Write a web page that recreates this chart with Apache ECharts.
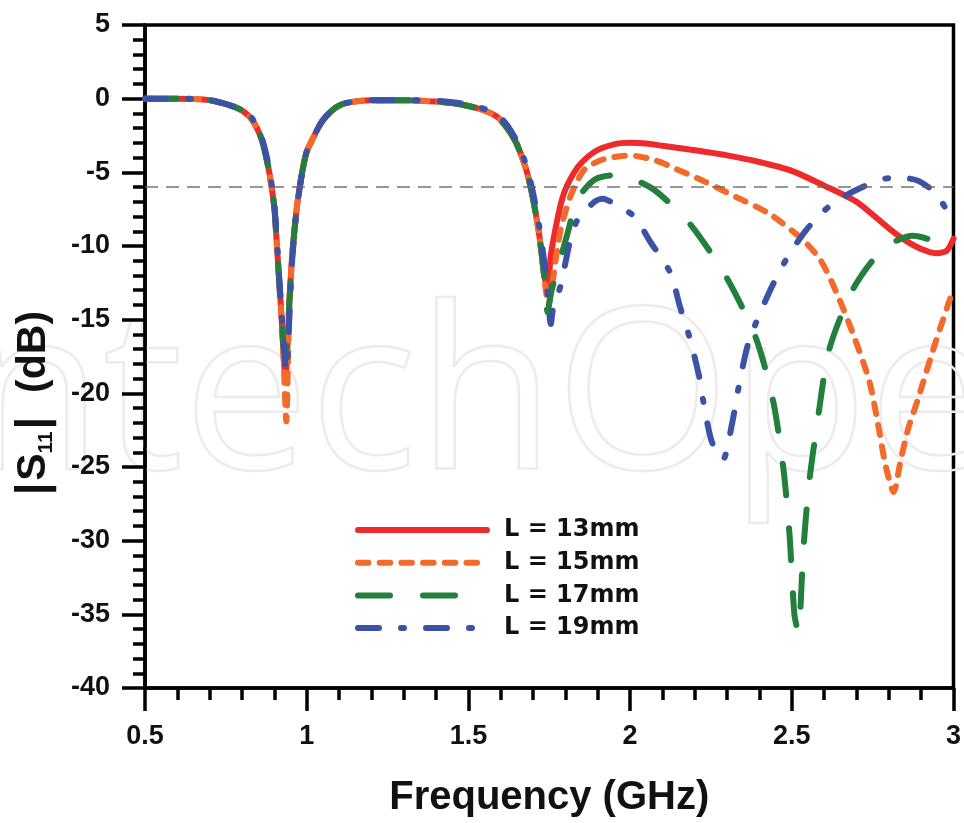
<!DOCTYPE html>
<html>
<head>
<meta charset="utf-8">
<script src="https://cdn.jsdelivr.net/npm/echarts@6/dist/echarts.min.js"></script>
<style>html,body{margin:0;padding:0;background:#fff}#c{width:964px;height:823px}</style>
</head>
<body>
<div id="c"></div>
<script>
// ---- data ----
const seriesNames = ['L = 13mm', 'L = 15mm', 'L = 17mm', 'L = 19mm'];

const freq13 = [0.50,0.60,0.70,0.77,0.80,0.83,0.86,0.875,0.885,0.90,0.91,0.92,0.928,0.934,0.94,0.946,0.955,0.97,0.986,1.00,1.017,1.04,1.06,1.09,1.12,1.20,1.30,1.40,1.45,1.50,1.55,1.59,1.62,1.65,1.68,1.70,1.72,1.735,1.745,1.755,1.775,1.79,1.805,1.84,1.89,1.95,2.00,2.05,2.10,2.20,2.30,2.40,2.50,2.60,2.70,2.80,2.85,2.90,2.95,2.98,3.00];
const s11_13 = [0,0,-0.1,-0.5,-0.8,-1.4,-2.7,-4.0,-5.1,-7.4,-10.7,-14.0,-17.0,-19.0,-17.0,-14.0,-10.7,-7.3,-5.0,-3.6,-2.8,-1.8,-1.2,-0.6,-0.3,-0.1,-0.1,-0.2,-0.3,-0.5,-0.8,-1.25,-2.0,-3.1,-4.9,-6.8,-9.4,-12.0,-12.9,-10.6,-8.2,-6.8,-5.9,-4.6,-3.6,-3.1,-3.0,-3.05,-3.2,-3.5,-3.85,-4.3,-4.9,-5.9,-7.0,-8.8,-9.6,-10.2,-10.5,-10.3,-9.5];

const freq15 = [0.50,0.60,0.70,0.77,0.80,0.83,0.86,0.875,0.885,0.90,0.91,0.92,0.928,0.937,0.942,0.947,0.955,0.97,0.986,1.00,1.017,1.04,1.06,1.09,1.12,1.20,1.30,1.40,1.45,1.50,1.55,1.59,1.62,1.65,1.68,1.70,1.72,1.735,1.748,1.757,1.767,1.785,1.816,1.859,1.92,2.00,2.08,2.145,2.228,2.33,2.43,2.535,2.59,2.637,2.69,2.74,2.77,2.79,2.815,2.837,2.86,2.89,2.945,3.00];
const s11_15 = [0,0,-0.1,-0.5,-0.8,-1.4,-2.7,-4.0,-5.1,-7.4,-10.7,-14.2,-17.5,-21.9,-18.0,-14.0,-10.7,-7.3,-5.0,-3.6,-2.8,-1.8,-1.2,-0.6,-0.3,-0.1,-0.1,-0.2,-0.3,-0.5,-0.8,-1.25,-2.0,-3.1,-4.9,-6.8,-9.4,-12.2,-14.0,-13.0,-11.4,-8.9,-6.6,-4.8,-4.1,-3.85,-4.2,-4.8,-5.6,-6.7,-7.8,-9.6,-11.0,-13.1,-16.0,-19.2,-22.5,-24.9,-26.7,-24.5,-22.4,-20.4,-16.5,-12.9];

const freq17 = [0.50,0.60,0.70,0.77,0.80,0.83,0.86,0.875,0.885,0.90,0.91,0.92,0.932,0.94,0.946,0.955,0.97,0.986,1.00,1.017,1.04,1.06,1.09,1.12,1.20,1.30,1.40,1.45,1.50,1.55,1.59,1.62,1.65,1.68,1.70,1.72,1.735,1.745,1.755,1.776,1.807,1.838,1.89,1.945,1.99,2.075,2.185,2.30,2.39,2.443,2.474,2.493,2.508,2.52,2.536,2.554,2.582,2.616,2.69,2.782,2.874,2.93,2.985,3.00];
const s11_17 = [0,0,-0.1,-0.5,-0.8,-1.4,-2.7,-4.0,-5.1,-7.4,-10.7,-14.0,-17.3,-16.5,-14.0,-10.7,-7.3,-5.0,-3.6,-2.8,-1.8,-1.2,-0.6,-0.3,-0.1,-0.1,-0.2,-0.3,-0.5,-0.8,-1.25,-2.0,-3.1,-4.9,-6.8,-9.4,-12.2,-14.5,-13.2,-11.6,-9.1,-6.8,-5.5,-5.2,-5.3,-6.2,-8.5,-12.2,-16.3,-20.6,-25.1,-29.6,-35.0,-36.2,-30.5,-26.0,-21.5,-17.0,-12.9,-10.2,-9.3,-9.6,-10.4,-10.5];

const freq19 = [0.50,0.60,0.70,0.77,0.80,0.83,0.86,0.875,0.885,0.90,0.91,0.92,0.93,0.937,0.943,0.948,0.956,0.97,0.986,1.00,1.017,1.04,1.06,1.09,1.12,1.20,1.30,1.40,1.45,1.50,1.55,1.59,1.62,1.65,1.68,1.70,1.72,1.74,1.755,1.762,1.785,1.816,1.838,1.89,1.915,1.94,2.013,2.062,2.124,2.154,2.185,2.213,2.23,2.253,2.287,2.314,2.339,2.367,2.431,2.483,2.545,2.616,2.699,2.80,2.853,2.893,2.945,2.975,3.00];
const s11_19 = [0,0,-0.1,-0.5,-0.8,-1.3,-2.6,-3.8,-4.9,-7.2,-10.4,-13.8,-17.0,-18.5,-16.5,-14.0,-10.7,-7.4,-5.0,-3.6,-2.8,-1.8,-1.2,-0.6,-0.3,-0.1,-0.1,-0.15,-0.25,-0.4,-0.7,-1.1,-1.8,-2.9,-4.6,-6.4,-8.8,-12.0,-15.3,-14.2,-12.7,-9.5,-8.2,-7.0,-6.8,-7.0,-8.0,-9.7,-11.8,-14.1,-16.3,-18.8,-21.0,-23.3,-24.5,-22.2,-19.2,-16.5,-13.1,-10.9,-8.9,-7.3,-6.2,-5.4,-5.4,-5.6,-6.4,-7.4,-8.0];

const refFreq = [0.5, 3.0];
const refLevel = [-6, -6];

const xTicks = {min: 0.5, max: 3, interval: 0.5};
const yTicks = {min: -40, max: 5, interval: 5};

// ---- styles ----
const colors = ['#ee2a2a', '#f26b2b', '#22803c', '#3a53a4'];
const dashes = ['solid', [10.5, 11.2], [32, 33], [21, 22, 3, 22]];
const freqs = [freq13, freq15, freq17, freq19];
const vals = [s11_13, s11_15, s11_17, s11_19];

const AX = '#000';
const LF = 'Liberation Sans';

function pairs(xs, ys) { return xs.map((x, i) => [x, ys[i]]); }

const chart = echarts.init(document.getElementById('c'), null, {renderer: 'canvas'});

const axisCommon = {
  type: 'value',
  axisLine: {show: true, onZero: false, lineStyle: {color: AX, width: 3.5}},
  axisTick: {show: true, inside: false, length: 23, lineStyle: {color: AX, width: 3.5}},
  minorTick: {show: true, splitNumber: 5, length: 12, lineStyle: {color: AX, width: 3.5}},
  splitLine: {show: false},
  minorSplitLine: {show: false},
  axisLabel: {margin: 35, fontFamily: LF, fontWeight: 'bold', fontSize: 27, color: '#111'}
};

const series = seriesNames.map((name, k) => ({
  type: 'line',
  name: name,
  data: pairs(freqs[k], vals[k]),
  symbol: 'none',
  showSymbol: false,
  smooth: 0.25,
  z: 2 + k,
  lineStyle: {color: colors[k], width: 6, type: dashes[k], cap: 'round', join: 'round'},
  itemStyle: {color: colors[k]},
  emphasis: {disabled: true}
}));

series.push({
  type: 'line',
  name: 'ref',
  data: pairs(refFreq, refLevel),
  symbol: 'none',
  silent: true,
  z: 10,
  lineStyle: {color: '#666', width: 1.6, type: [13, 8], opacity: 0.9},
  emphasis: {disabled: true}
});

chart.setOption({
  animation: false,
  backgroundColor: '#fff',
  grid: {left: 145, right: 6, top: 25, bottom: 133, show: true, borderColor: AX, borderWidth: 3.5, backgroundColor: 'transparent'},
  xAxis: Object.assign({}, axisCommon, {
    min: xTicks.min, max: xTicks.max, interval: xTicks.interval,
    name: 'Frequency (GHz)', nameLocation: 'middle', nameGap: 90,
    nameTextStyle: {fontFamily: LF, fontWeight: 'bold', fontSize: 40, color: '#111'}
  }),
  yAxis: Object.assign({}, axisCommon, {
    min: yTicks.min, max: yTicks.max, interval: yTicks.interval
  }),
  legend: {
    data: seriesNames,
    orient: 'vertical',
    left: 350, top: 513,
    itemWidth: 129, itemHeight: 14, itemGap: 8.7,
    selectedMode: false,
    itemStyle: {opacity: 0},
    lineStyle: {width: 6, cap: 'round'},
    textStyle: {fontFamily: 'DejaVu Sans', fontWeight: 'bold', fontSize: 24, color: '#111', lineHeight: 24, padding: [0, 0, 0, 12]}
  },
  graphic: [
    {
      type: 'text', x: -35, y: 405, z: 0, silent: true,
      style: {text: 'ntechOpen', fontSize: 225, fontFamily: 'Open Sans', fontWeight: 'normal',
              fill: 'rgba(0,0,0,0)', stroke: '#ececec', lineWidth: 2.5, align: 'left', verticalAlign: 'middle'}
    },
    {
      type: 'text', x: 34, y: 404, rotation: Math.PI / 2, z: 20, silent: true,
      style: {
        text: '{bar||}{s|S}{sub|11}{bar||}{gap| }{s|(dB)}',
        align: 'center', verticalAlign: 'middle',
        rich: {
          bar: {fontSize: 44, fontFamily: LF, fontWeight: 'bold', fill: '#111', lineHeight: 46, padding: [0, 2, 0, 2]},
          s: {fontSize: 41, fontFamily: LF, fontWeight: 'bold', fill: '#111', lineHeight: 46},
          gap: {fontSize: 41, fontFamily: LF, width: 22, lineHeight: 46},
          sub: {fontSize: 21, fontFamily: LF, fontWeight: 'bold', fill: '#111', lineHeight: 46, verticalAlign: 'bottom'}
        }
      }
    }
  ],
  series: series
});
</script>
</body>
</html>
